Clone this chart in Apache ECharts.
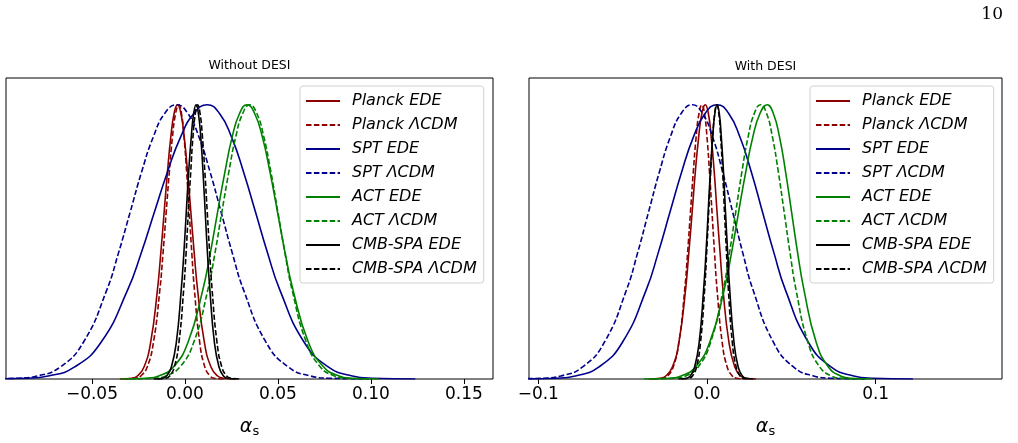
<!DOCTYPE html>
<html>
<head>
<meta charset="utf-8">
<title>alpha_s posteriors</title>
<script src="https://cdn.jsdelivr.net/npm/echarts@6/dist/echarts.min.js"></script>
<style>
  html, body { margin: 0; padding: 0; background: #fff; }
  #main { width: 1018px; height: 443px; }
</style>
</head>
<body>
<div id="main"></div>
<script>
var levels = [0, 0.003, 0.011, 0.044, 0.135, 0.325, 0.458, 0.607, 0.755, 0.883, 0.969, 1,
              0.969, 0.883, 0.755, 0.607, 0.458, 0.325, 0.135, 0.044, 0.011, 0.003, 0];

var names = ['Planck EDE', 'Planck ΛCDM', 'SPT EDE', 'SPT ΛCDM',
             'ACT EDE', 'ACT ΛCDM', 'CMB-SPA EDE', 'CMB-SPA ΛCDM'];
var colors = ['#8b0000', '#8b0000', '#00008b', '#00008b', '#008000', '#008000', '#000000', '#000000'];
var dashed = [false, true, false, true, false, true, false, true];

// x positions (alpha_s) of each curve at the heights above -- Without DESI
var noDesi = [
  [-0.0350, -0.0285, -0.0256, -0.0220, -0.0184, -0.0148, -0.0130, -0.0112, -0.0094, -0.0076, -0.0058, -0.0040,
   -0.0022, -0.0004, 0.0014, 0.0032, 0.0050, 0.0068, 0.0104, 0.0140, 0.0176, 0.0205, 0.0270],
  [-0.0325, -0.0264, -0.0237, -0.0203, -0.0169, -0.0135, -0.0118, -0.0101, -0.0084, -0.0067, -0.0050, -0.0033,
   -0.0019, -0.0005, 0.0009, 0.0023, 0.0037, 0.0051, 0.0079, 0.0107, 0.0135, 0.0157, 0.0208],
  [-0.1106, -0.0849, -0.0735, -0.0593, -0.0450, -0.0308, -0.0236, -0.0165, -0.0094, -0.0023, 0.0049, 0.0120,
   0.0185, 0.0250, 0.0315, 0.0380, 0.0445, 0.0510, 0.0640, 0.0770, 0.0900, 0.1004, 0.1238],
  [-0.1120, -0.0895, -0.0795, -0.0670, -0.0545, -0.0420, -0.0358, -0.0295, -0.0233, -0.0170, -0.0108, -0.0045,
   0.0015, 0.0075, 0.0135, 0.0195, 0.0255, 0.0315, 0.0435, 0.0555, 0.0675, 0.0771, 0.0987],
  [-0.0346, -0.0204, -0.0141, -0.0062, 0.0017, 0.0096, 0.0136, 0.0175, 0.0215, 0.0254, 0.0294, 0.0333,
   0.0374, 0.0416, 0.0457, 0.0498, 0.0539, 0.0581, 0.0663, 0.0746, 0.0828, 0.0894, 0.1043],
  [-0.0297, -0.0162, -0.0102, -0.0027, 0.0048, 0.0123, 0.0161, 0.0198, 0.0236, 0.0273, 0.0311, 0.0348,
   0.0386, 0.0424, 0.0462, 0.0500, 0.0538, 0.0576, 0.0652, 0.0728, 0.0804, 0.0865, 0.1002],
  [-0.0168, -0.0120, -0.0099, -0.0073, -0.0046, -0.0020, -0.0006, 0.0007, 0.0020, 0.0034, 0.0047, 0.0060,
   0.0072, 0.0085, 0.0097, 0.0109, 0.0121, 0.0134, 0.0158, 0.0183, 0.0207, 0.0227, 0.0271],
  [-0.0147, -0.0102, -0.0082, -0.0057, -0.0032, -0.0007, 0.0006, 0.0018, 0.0031, 0.0043, 0.0056, 0.0068,
   0.0081, 0.0094, 0.0107, 0.0120, 0.0133, 0.0146, 0.0172, 0.0198, 0.0224, 0.0245, 0.0292]
];

// With DESI
var withDesi = [
  [-0.0345, -0.0275, -0.0244, -0.0205, -0.0166, -0.0127, -0.0108, -0.0088, -0.0069, -0.0049, -0.0030, -0.0010,
   0.0008, 0.0025, 0.0043, 0.0060, 0.0078, 0.0095, 0.0130, 0.0165, 0.0200, 0.0228, 0.0291],
  [-0.0322, -0.0261, -0.0234, -0.0200, -0.0166, -0.0132, -0.0115, -0.0098, -0.0081, -0.0064, -0.0047, -0.0030,
   -0.0015, 0.0000, 0.0015, 0.0030, 0.0045, 0.0060, 0.0090, 0.0120, 0.0150, 0.0174, 0.0228],
  [-0.1144, -0.0892, -0.0780, -0.0640, -0.0500, -0.0360, -0.0290, -0.0220, -0.0150, -0.0080, -0.0010, 0.0060,
   0.0128, 0.0195, 0.0263, 0.0330, 0.0398, 0.0465, 0.0600, 0.0735, 0.0870, 0.0978, 0.1221],
  [-0.1205, -0.0971, -0.0867, -0.0737, -0.0607, -0.0477, -0.0412, -0.0347, -0.0282, -0.0217, -0.0152, -0.0087,
   -0.0027, 0.0033, 0.0093, 0.0153, 0.0213, 0.0273, 0.0393, 0.0513, 0.0633, 0.0729, 0.0945],
  [-0.0374, -0.0221, -0.0153, -0.0068, 0.0017, 0.0102, 0.0145, 0.0187, 0.0230, 0.0272, 0.0315, 0.0357,
   0.0393, 0.0430, 0.0466, 0.0502, 0.0538, 0.0575, 0.0647, 0.0720, 0.0792, 0.0850, 0.0981],
  [-0.0318, -0.0185, -0.0126, -0.0052, 0.0022, 0.0096, 0.0133, 0.0170, 0.0207, 0.0244, 0.0281, 0.0318,
   0.0353, 0.0388, 0.0423, 0.0458, 0.0493, 0.0528, 0.0598, 0.0668, 0.0738, 0.0794, 0.0920],
  [-0.0168, -0.0120, -0.0099, -0.0073, -0.0046, -0.0020, -0.0006, 0.0007, 0.0020, 0.0034, 0.0047, 0.0060,
   0.0073, 0.0085, 0.0098, 0.0110, 0.0123, 0.0135, 0.0160, 0.0185, 0.0210, 0.0230, 0.0275],
  [-0.0148, -0.0105, -0.0086, -0.0062, -0.0038, -0.0014, -0.0002, 0.0010, 0.0022, 0.0034, 0.0046, 0.0058,
   0.0070, 0.0081, 0.0093, 0.0104, 0.0116, 0.0127, 0.0150, 0.0173, 0.0196, 0.0214, 0.0256]
];

var ticksLeft = [-0.05, 0, 0.05, 0.10, 0.15];
var ticksRight = [-0.1, 0, 0.1];

var myChart = echarts.init(document.getElementById('main'), null, { renderer: 'canvas' });

var font = 'DejaVu Sans';

function makeXAxis(idx, min, max, ticks, digits) {
  return {
    type: 'value', gridIndex: idx, min: min, max: max,
    axisLine: { show: false },
    splitLine: { show: false },
    axisTick: { show: true, customValues: ticks, length: 5, lineStyle: { color: '#000', width: 1 } },
    axisLabel: {
      customValues: ticks, margin: 7, color: '#000', fontSize: 17, fontFamily: font,
      formatter: function (v) { return (v < 0 ? '\u2212' : '') + Math.abs(v).toFixed(digits); }
    },
    name: '{a|α}{b|s}', nameLocation: 'middle', nameGap: 37,
    nameTextStyle: {
      rich: {
        a: { fontSize: 19, fontStyle: 'italic', fontFamily: font, color: '#000' },
        b: { fontSize: 13, fontFamily: font, color: '#000', padding: [9, 0, 0, 0] }
      }
    }
  };
}

function makeYAxis(idx) {
  return {
    type: 'value', gridIndex: idx, min: 0, max: 1.0975,
    axisLine: { show: false }, axisTick: { show: false },
    axisLabel: { show: false }, splitLine: { show: false }
  };
}

function makeLegend(left) {
  return {
    orient: 'vertical', left: left, top: 86,
    data: names,
    itemWidth: 34, itemHeight: 14, itemGap: 8,
    padding: [7, 7, 6, 5],
    backgroundColor: 'rgba(255,255,255,0.8)',
    borderColor: '#d0d0d0', borderWidth: 1, borderRadius: 3,
    itemStyle: { opacity: 0 },
    textStyle: { fontSize: 16, fontStyle: 'italic', fontFamily: font, color: '#000', padding: [0, 0, 0, 7] },
    selectedMode: false
  };
}

var series = [];
[noDesi, withDesi].forEach(function (panel, p) {
  panel.forEach(function (xs, i) {
    series.push({
      name: names[i], type: 'line',
      xAxisIndex: p, yAxisIndex: p,
      data: levels.map(function (y, j) { return [xs[j], y]; }),
      smooth: 0.5,
      symbol: 'none', showSymbol: false, silent: true, animation: false,
      lineStyle: { color: colors[i], width: 1.6, type: dashed[i] ? [5.5, 2.4] : 'solid' },
      itemStyle: { color: colors[i] }
    });
  });
});

var option = {
  animation: false,
  grid: [
    { left: 6, top: 78, width: 487, height: 304, show: true, borderColor: '#000', borderWidth: 1 },
    { left: 529, top: 78, width: 473, height: 304, show: true, borderColor: '#000', borderWidth: 1 }
  ],
  xAxis: [
    makeXAxis(0, -0.0962, 0.1656, ticksLeft, 2),
    makeXAxis(1, -0.1055, 0.1749, ticksRight, 1)
  ],
  yAxis: [makeYAxis(0), makeYAxis(1)],
  legend: [makeLegend(300), makeLegend(810)],
  graphic: [
    { type: 'text', x: 249.5, y: 66, style: { text: 'Without DESI', font: '12.5px "DejaVu Sans"', fill: '#000', textAlign: 'center', textVerticalAlign: 'middle' } },
    { type: 'text', x: 765.5, y: 67, style: { text: 'With DESI', font: '12.5px "DejaVu Sans"', fill: '#000', textAlign: 'center', textVerticalAlign: 'middle' } },
    { type: 'text', x: 1003, y: 15, style: { text: '10', font: '17px "DejaVu Serif"', fill: '#000', textAlign: 'right', textVerticalAlign: 'middle' } }
  ],
  series: series
};

myChart.setOption(option);
</script>
</body>
</html>
